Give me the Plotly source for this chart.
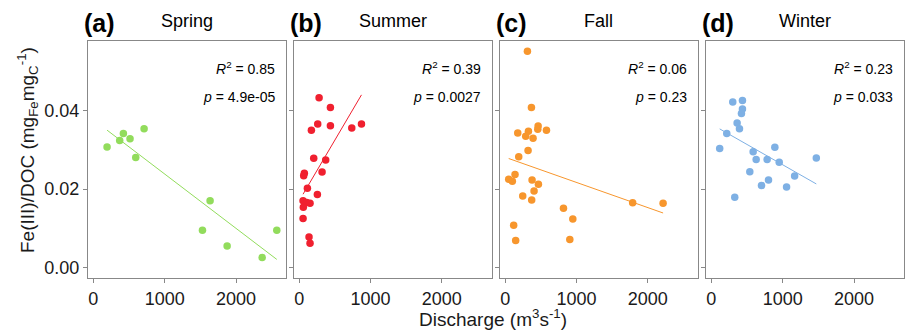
import numpy as np
import plotly.graph_objects as go

W, H = 905, 331

seasons = ["Spring", "Summer", "Fall", "Winter"]
panel_tags = ["(a)", "(b)", "(c)", "(d)"]
colors = ["#92dc5c", "#f0202f", "#f7962d", "#7eb0e4"]

spring_x = [192, 369, 421, 514, 594, 711, 1529, 1636, 1875, 2366, 2571]
spring_y = [0.0307, 0.0323, 0.0341, 0.0328, 0.0280, 0.0353, 0.0095, 0.0170, 0.0055, 0.0026, 0.0095]

summer_x = [277, 436, 258, 436, 169, 736, 872, 202, 370, 70, 61, 319, 113, 253, 52, 103, 150, 56, 52, 136, 150]
summer_y = [0.0432, 0.0407, 0.0365, 0.0361, 0.0349, 0.0355, 0.0365, 0.0278, 0.0274, 0.0240, 0.0234,
            0.0243, 0.0202, 0.0186, 0.0170, 0.0166, 0.0164, 0.0154, 0.0125, 0.0078, 0.0062]

fall_x = [310, 366, 174, 324, 286, 389, 460, 455, 577, 319, 188, 136, 47, 98, 375, 464, 403, 244, 370,
          816, 947, 117, 145, 905, 1787, 2214]
fall_y = [0.0550, 0.0407, 0.0342, 0.0347, 0.0334, 0.0329, 0.0360, 0.0352, 0.0349, 0.0298, 0.0282,
          0.0237, 0.0225, 0.0220, 0.0223, 0.0212, 0.0195, 0.0182, 0.0172, 0.0151, 0.0124, 0.0108,
          0.0069, 0.0072, 0.0165, 0.0164]

winter_x = [300, 436, 436, 422, 361, 394, 216, 117, 890, 586, 628, 782, 951, 1471, 539, 1167, 801, 703, 1054, 328]
winter_y = [0.0421, 0.0425, 0.0403, 0.0392, 0.0368, 0.0353, 0.0341, 0.0303, 0.0306, 0.0295, 0.0275,
            0.0275, 0.0268, 0.0279, 0.0244, 0.0233, 0.0223, 0.0209, 0.0205, 0.0179]

r2_labels = ["0.85", "0.39", "0.06", "0.23"]
p_labels = ["4.9e-05", "0.0027", "0.23", "0.033"]

x_ticks = [0, 1000, 2000]
y_ticks = [0.00, 0.02, 0.04]

data = [(spring_x, spring_y), (summer_x, summer_y), (fall_x, fall_y), (winter_x, winter_y)]

# panel boxes in pixels
boxes = [(88, 286), (294, 491.7), (500, 697.7), (706, 904)]
top_px, bot_px = 41, 278


def px_x(p):
    return p / W


def px_y(p):
    return 1 - p / H


fig = go.Figure()
font = "Liberation Sans, Arial, sans-serif"
annotations = []

for i, ((xs, ys), col) in enumerate(zip(data, colors)):
    ax = "" if i == 0 else str(i + 1)
    xa, ya = "x" + ax, "y" + ax
    fig.add_trace(go.Scatter(x=xs, y=ys, mode="markers", xaxis=xa, yaxis=ya,
                             marker=dict(size=7.5, color=col), showlegend=False))
    k, b = np.polyfit(xs, ys, 1)
    lx = np.array([min(xs), max(xs)])
    fig.add_trace(go.Scatter(x=lx, y=k * lx + b, mode="lines", xaxis=xa, yaxis=ya,
                             line=dict(color=col, width=1), showlegend=False))
    l, r = boxes[i]
    axis_common = dict(showline=True, mirror=True, linecolor="#888888", linewidth=1.3,
                       ticks="outside", ticklen=4, tickcolor="#888888", tickwidth=1,
                       showgrid=False, zeroline=False,
                       tickfont=dict(family=font, size=18, color="#1a1a1a"))
    fig.update_layout(**{
        "xaxis" + ax: dict(domain=[px_x(l), px_x(r)], range=[-75, 2700], anchor=ya,
                           tickvals=x_ticks, **axis_common),
        "yaxis" + ax: dict(domain=[px_y(bot_px), px_y(top_px)], range=[-0.0026, 0.0576], anchor=xa,
                           tickvals=y_ticks, tickformat=".2f", showticklabels=(i == 0),
                           **axis_common),
    })
    annotations.append(dict(x=px_x(l - 6), y=px_y(23), xref="paper", yref="paper",
                            text="<b>%s</b>" % panel_tags[i], showarrow=False,
                            xanchor="left", yanchor="middle",
                            font=dict(family=font, size=25, color="black")))
    annotations.append(dict(x=px_x((l + r) / 2), y=px_y(21), xref="paper", yref="paper",
                            text=seasons[i], showarrow=False, xanchor="center", yanchor="middle",
                            font=dict(family=font, size=18, color="black")))
    annotations.append(dict(x=px_x(r - 9), y=px_y(68), xref="paper", yref="paper",
                            text="<i>R</i><sup>2</sup> = %s" % r2_labels[i], showarrow=False,
                            xanchor="right", yanchor="middle",
                            font=dict(family=font, size=14, color="black")))
    annotations.append(dict(x=px_x(r - 9), y=px_y(97), xref="paper", yref="paper",
                            text="<i>p</i> = %s" % p_labels[i], showarrow=False,
                            xanchor="right", yanchor="middle",
                            font=dict(family=font, size=14, color="black")))

annotations.append(dict(x=px_x(493), y=px_y(331), xref="paper", yref="paper",
                        text="Discharge (m<sup>3</sup>s<sup>-1</sup>)", showarrow=False,
                        xanchor="center", yanchor="bottom", borderpad=0,
                        font=dict(family=font, size=19, color="#1a1a1a")))
annotations.append(dict(x=px_x(27), y=px_y(150), xref="paper", yref="paper",
                        text="Fe(III)/DOC (mg<sub>Fe</sub>mg<sub>C</sub><sup>-1</sup>)", showarrow=False,
                        textangle=-90, xanchor="center", yanchor="middle",
                        font=dict(family=font, size=19, color="#1a1a1a")))

fig.update_layout(width=W, height=H, margin=dict(l=0, r=0, t=0, b=0),
                  plot_bgcolor="white", paper_bgcolor="white", annotations=annotations)

fig.write_html("out.html")
